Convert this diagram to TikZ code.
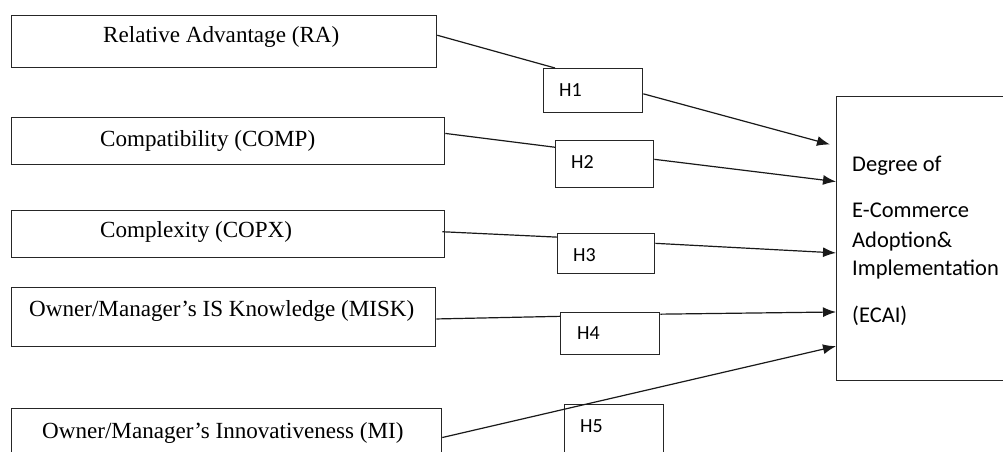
\documentclass[tikz,border=0pt]{standalone}
\usepackage{fontspec}
\setmainfont{Liberation Serif}
\newfontfamily\calfont{Carlito}
\usetikzlibrary{arrows.meta,calc}
\begin{document}
\begin{tikzpicture}[x=1pt,y=-1pt,
 box/.style={draw=black!85,line width=1.3pt,rectangle,inner sep=0pt,anchor=north west},
 lbl/.style={anchor=base west,inner sep=0pt,font=\fontsize{23.1}{27}\selectfont},
 hl/.style={anchor=base west,inner sep=0pt,font=\calfont\fontsize{20}{24}\selectfont},
 el/.style={anchor=base west,inner sep=0pt,font=\calfont\fontsize{22.5}{27}\selectfont},
 conn/.style={draw=black!90,line width=1.2pt},
 arr/.style={conn,-{Latex[length=13pt,width=10pt]}}]
\useasboundingbox (0,0) rectangle (1003,452);
\clip (0,0) rectangle (1003,452);
\fill[white] (0,0) rectangle (1003,452);

% left boxes
\node[box,minimum width=425pt,minimum height=52pt] (ra) at (11,15) {};
\node[box,minimum width=433pt,minimum height=47pt] (comp) at (11,117) {};
\node[box,minimum width=433pt,minimum height=47pt] (copx) at (11,210) {};
\node[box,minimum width=424pt,minimum height=59pt] (misk) at (11,287) {};
\node[box,minimum width=430pt,minimum height=70pt] (mi) at (11,408) {};

\node[lbl] (rat) at (103,43) {Relative Advantage (RA)};
\node[lbl] (compt) at (100,146) {Compatibility (COMP)};
\node[lbl] (copxt) at (100,237) {Complexity (COPX)};
\node[lbl] (miskt) at (29,316) {Owner/Manager’s IS Knowledge (MISK)};
\node[lbl] (mit) at (42,438) {Owner/Manager’s Innovativeness (MI)};

% hypothesis boxes
\node[box,minimum width=99pt,minimum height=44pt] (h1) at (543,68) {};
\node[box,minimum width=98pt,minimum height=47pt] (h2) at (555,140) {};
\node[box,minimum width=97pt,minimum height=40pt] (h3) at (557,233) {};
\node[box,minimum width=99pt,minimum height=42pt] (h4) at (560,312) {};
\node[box,minimum width=99pt,minimum height=70pt] (h5) at (564,404) {};

\node[hl] (h1t) at (559,96) {H1};
\node[hl] (h2t) at (571,168) {H2};
\node[hl] (h3t) at (573,261) {H3};
\node[hl] (h4t) at (577,339) {H4};
\node[hl] (h5t) at (580,432) {H5};

% outcome box
\node[box,minimum width=200pt,minimum height=284pt] (ecai) at (836,96) {};
\node[el] (e1) at (852,171) {Degree of};
\node[el] (e2) at (852,217) {E-Commerce};
\node[el] (e3) at (852,247) {Adoption\&};
\node[el] (e4) at (852,275) {Implementation};
\node[el] (e5) at (852,322) {(ECAI)};

% connectors
\draw[conn] ($(ra.north east)!0.38!(ra.south east)$) -- ($(h1.north west)!0.12!(h1.north east)$);
\draw[arr] ($(h1.north east)!0.57!(h1.south east)$) -- ($(ecai.north west)!0.17!(ecai.south west)+(-6,0)$);

\draw[conn] ($(comp.north east)!0.34!(comp.south east)$) -- ($(h2.north west)!0.15!(h2.south west)$);
\draw[arr] ($(h2.north east)!0.4!(h2.south east)$) -- ($(ecai.north west)!0.30!(ecai.south west)$);

\draw[conn] ($(copx.north east)!0.45!(copx.south east)+(-3,0)$) -- ($(h3.north west)!0.1!(h3.south west)$);
\draw[arr] ($(h3.north east)!0.25!(h3.south east)$) -- ($(ecai.north west)!0.55!(ecai.south west)$);

\draw[conn] ($(misk.north east)!0.53!(misk.south east)$) -- ($(h4.north west)!0.1!(h4.south west)$);
\draw[arr] ($(h4.north east)!0.05!(h4.south east)$) -- ($(ecai.north west)!0.757!(ecai.south west)$);

\draw[arr] ($(mi.north east)!0.414!(mi.south east)$) -- ($(ecai.north west)!0.877!(ecai.south west)$);
\end{tikzpicture}
\end{document}
